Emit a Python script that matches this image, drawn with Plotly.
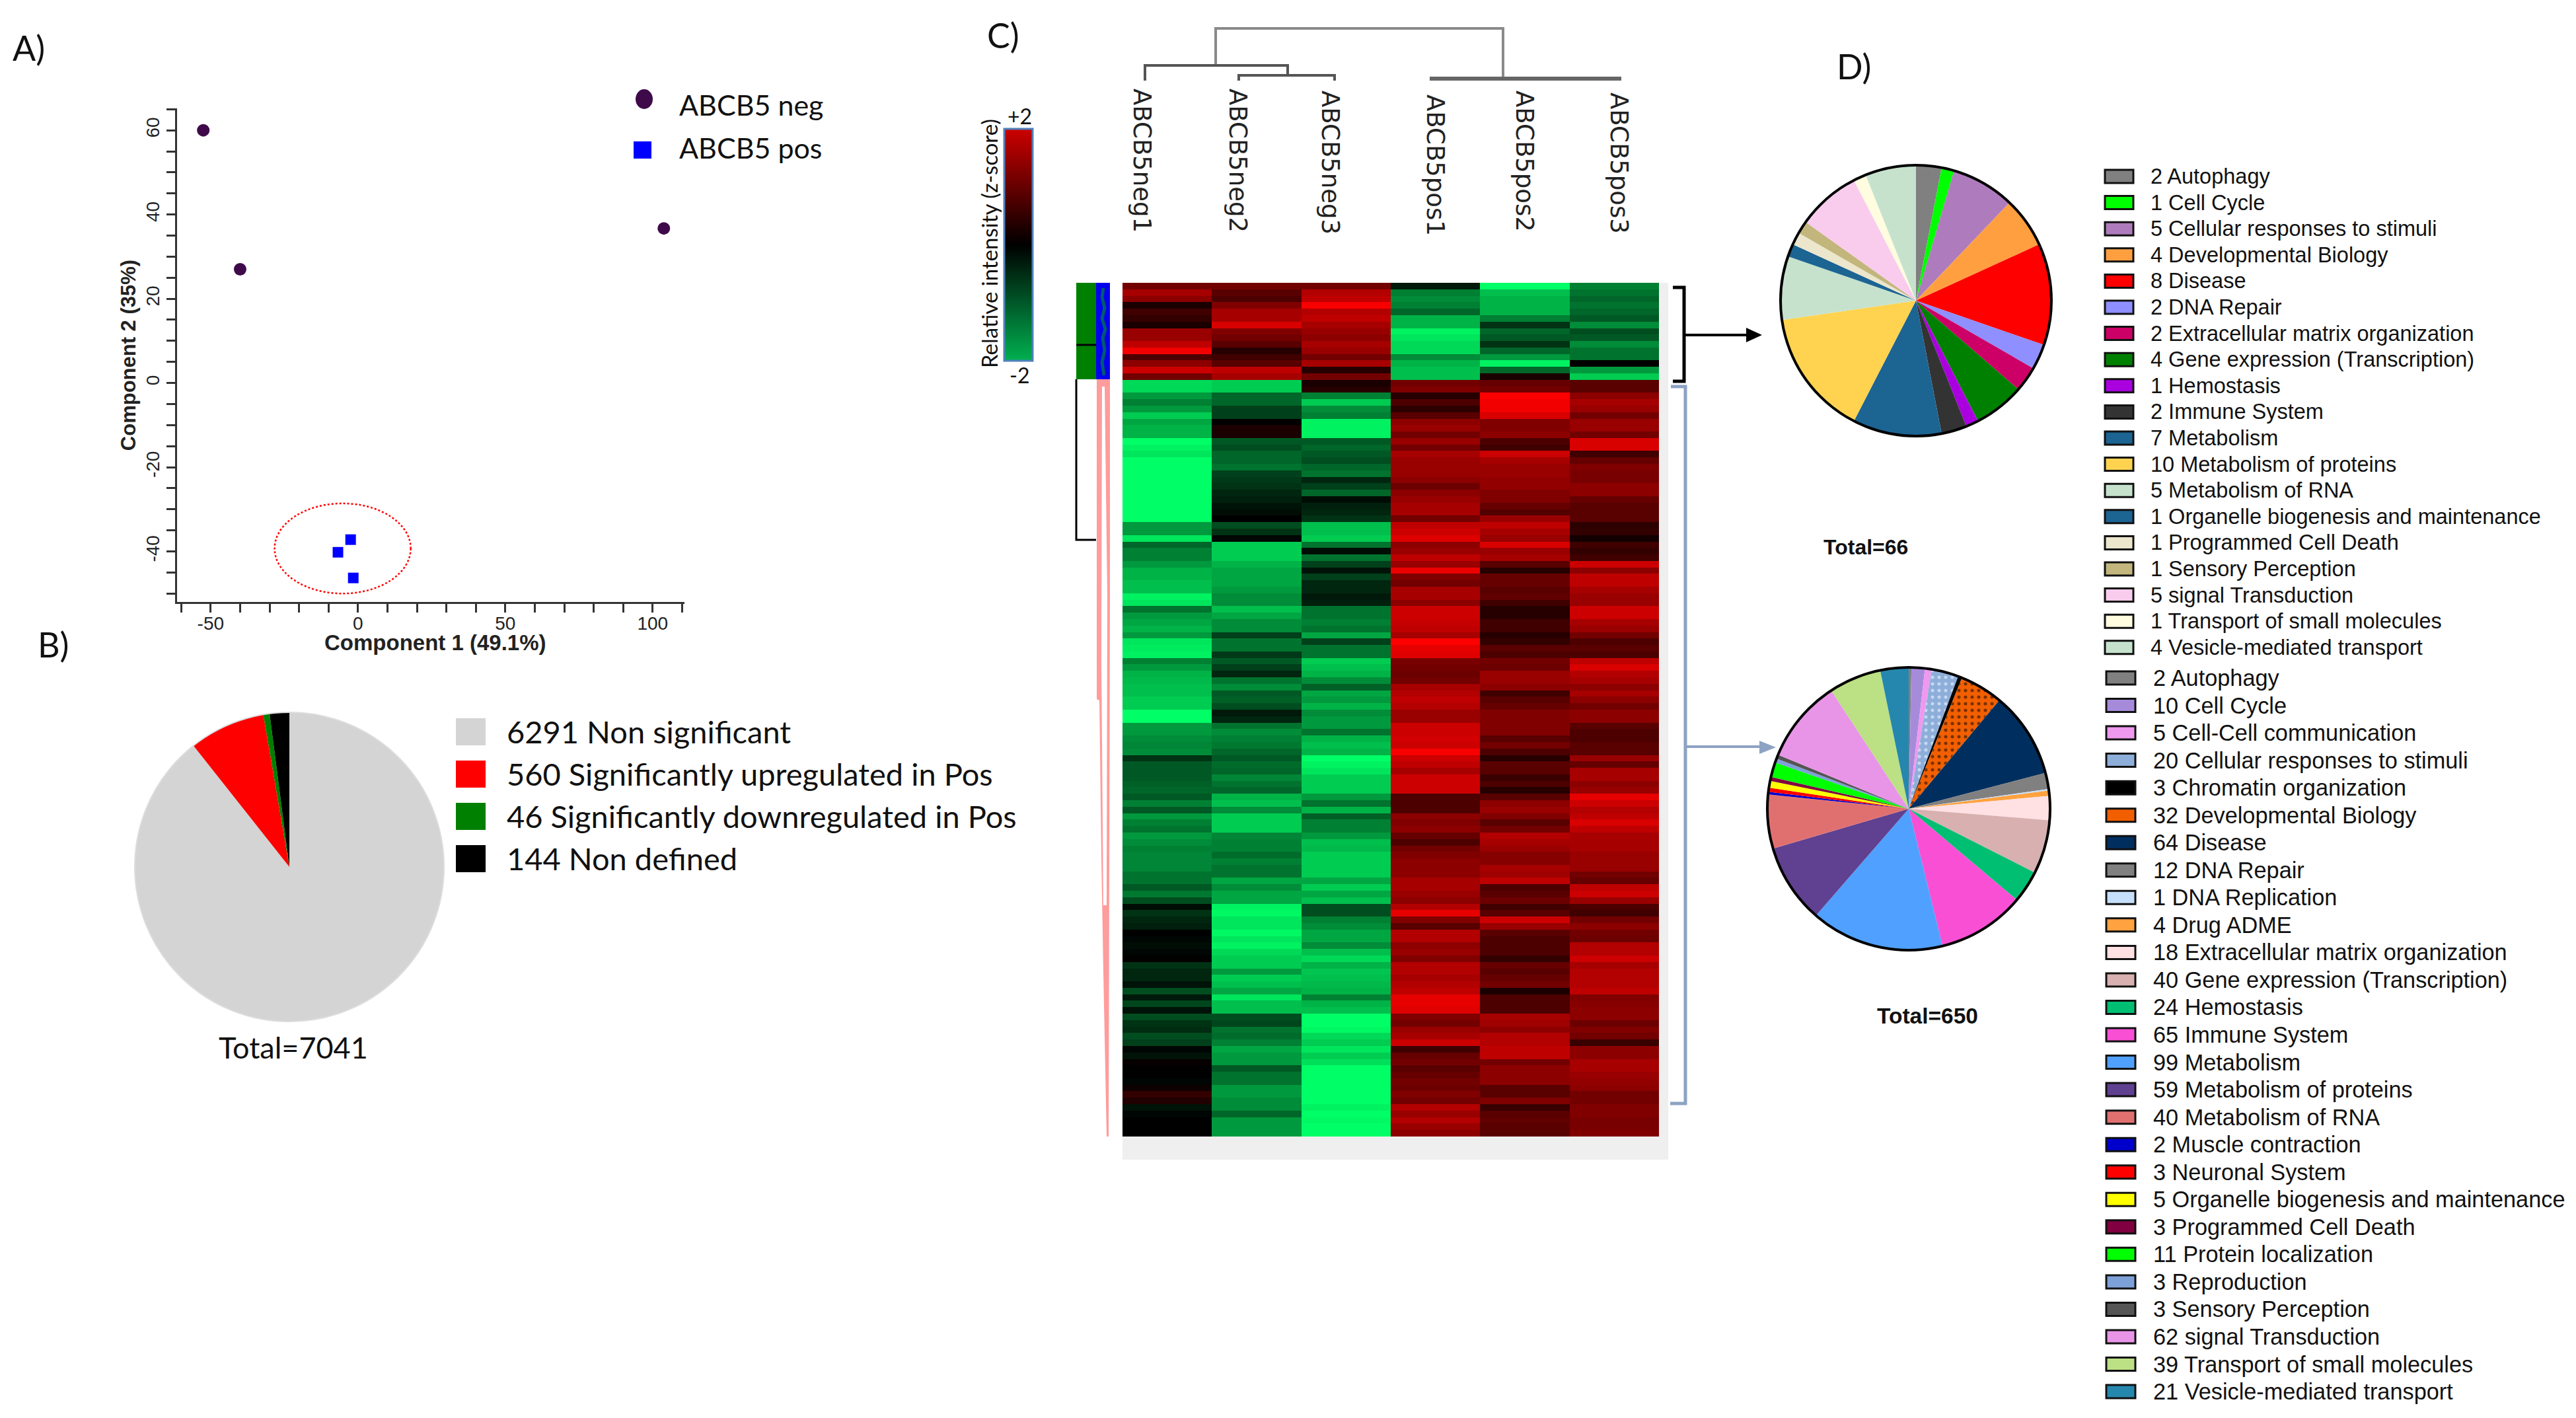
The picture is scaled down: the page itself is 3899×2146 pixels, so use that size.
import plotly.graph_objects as go

W, H = 3899, 2146

# ---------- Panel A data ----------
NEG_X = [-52.5, -40.0, 103.8]
NEG_Y = [60.0, 27.0, 36.7]
POS_X = [-2.5, -6.8, -1.6]
POS_Y = [-37.2, -40.2, -46.3]
A_XTICKS = [-50, 0, 50, 100]
A_XTEXT = ["-50", "0", "50", "100"]
A_YTICKS = [-40, -20, 0, 20, 40, 60]
A_YTEXT = ["-40", "-20", "0", "20", "40", "60"]

# ---------- Panel B data ----------
B_LABELS = ["Non significant", "Significantly upregulated in Pos", "Significantly downregulated in Pos", "Non defined"]
B_VALUES = [6291, 560, 46, 144]
B_COLORS = ["#D4D4D4", "#FF0000", "#008000", "#000000"]

# ---------- Panel C data ----------
COLS = ["ABCB5neg1", "ABCB5neg2", "ABCB5neg3", "ABCB5pos1", "ABCB5pos2", "ABCB5pos3"]
NEG1 = [.9,1.3,1.1,.2,.5,.4,.2,1.2,1.2,1.5,1.9,.6,1.1,1.6,.9,
  -1.7,-1.7,-1.2,-1.0,-1.2,-1.6,-1.3,-1.4,-1.4,-2,-1.9,-1.8,-2,-2,-2,-2,-2,-2,-2,-2,-2,-2,-1.2,-1.2,-1.8,-.8,-1.0,-1.0,-1.2,-1.4,-1.4,-1.5,-1.5,-1.9,-1.8,-.9,-1.2,-1.3,-1.4,
  -1.2,-1.8,-1.85,-1.9,-1.0,-1.2,-1.4,-1.45,-1.5,-1.5,-1.6,-1.6,-2,-2,-1.2,-1.2,-1.1,-1.05,-1.1,-.4,-.7,-.7,-.7,-.75,-.8,-.7,-1.0,-.7,-1.2,-1.0,-.9,-1.2,-1.1,-1.0,-1.05,-1.05,-1.05,-.9,-.9,
  -.7,-.95,-.6,-.1,-.4,-.3,-.25,0,-.05,-.1,-.05,.02,-.4,-.3,-.3,-.15,-.6,-.2,-.55,-.15,-.6,-.4,-.35,-.6,-.5,-.05,-.15,.05,0,0,-.05,.1,.4,.25,-.15,-.05,0,0,0]
NEG2 = [.9,.7,.6,1.0,1.3,1.3,1.7,1.0,.9,.7,.3,.5,.7,1.5,1.3,
  -1.6,-1.6,-.8,-.8,-.5,-.5,0,.2,.2,-.7,-.6,-.8,-.8,-.9,-.5,-.45,-.4,-.3,-.25,-.15,-.1,0,-.6,-.4,-.05,-1.6,-1.6,-1.6,-1.4,-1.3,-1.3,-1.3,-1.2,-1.1,-1.1,-1.5,-1.3,-1.1,-1.1,
  -.5,-.9,-.9,-.45,-.7,-.5,-.3,-.9,-1.1,-.7,-.75,-.6,-.2,-.3,-.9,-1.1,-1.0,-.95,-.8,-.7,-.85,-.8,-1.05,-.9,-.8,-1.4,-1.5,-1.1,-1.6,-1.6,-1.6,-1.05,-1.0,-1.0,-.85,-1.0,-.9,-.9,-1.3,
  -1.1,-1.3,-1.3,-1.9,-1.95,-1.8,-1.8,-1.95,-1.8,-1.9,-1.7,-1.6,-1.6,-1.2,-1.6,-1.5,-1.3,-1.8,-1.5,-1.5,-.6,-.55,-.9,-.85,-1.0,-1.3,-1.2,-1.2,-.7,-.9,-.9,-1.2,-1.2,-1.1,-1.1,-.8,-1.2,-1.2,-1.2]
NEG3 = [.9,1.4,1.5,1.95,1.4,1.5,1.3,1.2,1.1,1.3,1.2,.9,1.3,.3,.9,
  .2,.3,-1.0,-1.6,-1.1,-1.0,-1.9,-1.9,-1.9,-.7,-.8,-.7,-.6,-.8,-.9,-.3,-.5,-.8,-.1,-.25,-.3,-.4,-1.5,-1.5,-1.6,-.9,-.1,-.9,-.5,-.15,-.5,-.3,-.3,-.2,-.25,-.9,-.9,-1.0,-.9,
  -1.3,-.5,-.9,-.9,-1.6,-1.5,-1.4,-1.1,-.75,-1.3,-1.2,-1.4,-1.1,-1.2,-1.2,-.9,-1.4,-1.5,-1.4,-2,-1.9,-1.8,-1.6,-1.6,-1.6,-1.2,-.9,-1.4,-.75,-1.0,-1.0,-1.2,-1.5,-1.45,-1.6,-1.6,-1.6,-1.6,-1.3,
  -1.6,-1.3,-1.5,-.6,-.6,-1.0,-1.1,-1.3,-1.3,-1.1,-1.5,-1.7,-1.4,-1.55,-1.5,-1.45,-1.4,-1.0,-1.4,-1.5,-2,-2,-1.95,-1.7,-1.6,-1.8,-1.6,-1.75,-2,-2,-2,-2,-2,-2,-1.9,-2,-1.95,-2,-2]
POS1 = [-.2,-1.0,-1.1,-1.0,-.8,-1.4,-1.4,-1.9,-1.8,-1.7,-1.7,-1.1,-1.4,-1.5,-1.5,
  .9,1.0,.3,.6,.35,.7,1.1,1.2,.9,1.2,.9,1.3,1.2,1.2,1.2,1.1,.85,1.1,1.2,1.3,1.3,.9,1.5,1.6,1.75,1.1,1.2,1.5,1.2,1.85,1.0,.9,1.3,1.3,1.1,1.6,1.6,1.55,1.5,
  1.3,2.0,1.8,1.75,.95,.9,.85,.9,1.3,1.4,1.5,1.4,1.2,1.2,1.6,1.6,1.65,1.6,1.95,1.6,1.5,1.3,1.6,1.6,1.6,.6,.6,.6,1.1,1.0,1.1,.8,.6,.9,1.0,1.1,1.1,1.1,1.3,
  1.3,1.2,1.1,1.4,1.8,1.0,.7,1.4,1.4,1.1,1.2,1.0,1.4,1.4,1.3,1.4,1.5,1.8,1.8,1.75,1.0,.9,1.2,1.3,1.6,.5,.8,.9,.7,.8,.9,.85,1.0,.9,1.4,1.2,1.4,1.2,1.1]
POS2 = [-2,-1.5,-1.4,-1.4,-1.4,-1.0,-.4,-.8,-.7,-.4,-.8,-1.2,-1.9,-.8,.2,
  .8,.9,2.0,1.9,1.9,1.7,1.0,1.0,1.1,.6,.5,1.6,1.3,1.2,1.2,1.15,1.15,1.0,1.0,.8,.65,1.2,1.5,1.3,1.2,1.7,1.2,1.3,.7,.3,.8,.8,.7,.75,.5,.3,.3,.5,.5,
  .3,.4,.7,.6,.9,.85,1.2,1.2,1.1,.5,.7,.8,1.0,1.0,1.0,1.0,.7,.9,.6,.3,.7,.7,.45,.6,.3,.7,1.1,1.2,1.0,.7,.9,1.4,1.3,1.2,1.05,1.05,1.3,1.25,1.5,
  .6,.7,.85,.5,.7,1.6,1.2,.7,.6,.6,.6,.4,.8,.7,.8,.9,.2,.6,.6,.6,1.3,1.25,1.1,1.4,1.4,1.5,1.5,.9,1.1,1.1,1.1,.7,.7,1.0,.45,.7,.75,.7,.7]
POS3 = [-1.0,-.9,-.8,-.9,-.8,-.7,-1.1,-.6,-.7,-1.1,-.9,-.9,0,-1.2,-1.6,
  .7,.7,1.1,1.3,1.2,.9,1.2,1.2,.9,1.7,1.7,.5,.8,1.0,.95,.95,1.1,1.1,.8,.7,.7,.7,.35,.4,.15,.5,.4,.5,1.6,1.1,1.5,1.5,1.3,1.2,1.2,1.6,1.6,1.3,1.2,
  .9,.6,.7,.6,1.5,1.7,1.4,1.3,1.1,1.3,1.1,.9,1.1,1.1,.7,.6,.6,.7,.7,1.2,.8,1.3,1.3,1.1,1.2,1.8,1.6,1.4,1.5,1.7,1.5,1.3,1.3,1.3,1.2,1.2,1.2,.9,.8,
  1.5,1.6,1.2,.6,.5,.9,1.1,.9,.85,1.4,1.4,1.6,1.3,1.4,1.4,1.4,1.5,1.0,1.05,1.1,1.1,.85,1.0,.9,.45,1.1,1.1,1.3,1.3,1.2,1.15,1.1,.9,.9,1.0,1.0,.95,.95,1.0]

# ---------- Panel D data ----------
D1_LABELS = ["Autophagy", "Cell Cycle", "Cellular responses to stimuli", "Developmental Biology", "Disease", "DNA Repair",
             "Extracellular matrix organization", "Gene expression (Transcription)", "Hemostasis", "Immune System", "Metabolism",
             "Metabolism of proteins", "Metabolism of RNA", "Organelle biogenesis and maintenance", "Programmed Cell Death",
             "Sensory Perception", "signal Transduction", "Transport of small molecules", "Vesicle-mediated transport"]
D1_VALUES = [2, 1, 5, 4, 8, 2, 2, 4, 1, 2, 7, 10, 5, 1, 1, 1, 5, 1, 4]
D1_COLORS = ["#808080", "#00FF00", "#AE7CBC", "#FF9F40", "#FF0000", "#8F8FFF", "#CC0066", "#008000", "#AA00E0", "#333333",
             "#1C6492", "#FFD34F", "#C6E2CC", "#1C6492", "#EBE6CC", "#C2B67C", "#F9CCEE", "#FFFCE0", "#C6E2CC"]

D2_LABELS = ["Autophagy", "Cell Cycle", "Cell-Cell communication", "Cellular responses to stimuli", "Chromatin organization",
             "Developmental Biology", "Disease", "DNA Repair", "DNA Replication", "Drug ADME", "Extracellular matrix organization",
             "Gene expression (Transcription)", "Hemostasis", "Immune System", "Metabolism", "Metabolism of proteins",
             "Metabolism of RNA", "Muscle contraction", "Neuronal System", "Organelle biogenesis and maintenance",
             "Programmed Cell Death", "Protein localization", "Reproduction", "Sensory Perception", "signal Transduction",
             "Transport of small molecules", "Vesicle-mediated transport"]
D2_VALUES = [2, 10, 5, 20, 3, 32, 64, 12, 1, 4, 18, 40, 24, 65, 99, 59, 40, 2, 3, 5, 3, 11, 3, 3, 62, 39, 21]
D2_COLORS = ["#808080", "#A78BDB", "#EE99EE", "#8EAEDA", "#000000", "#F25F00", "#002F5F", "#808080", "#C6DFFA", "#FFA23F",
             "#FFE0E3", "#D8B0B0", "#00BF73", "#F94FD5", "#50A0FF", "#604090", "#E07070", "#0000CC", "#FF0000", "#FFFF00",
             "#800040", "#00FF00", "#7EA0D8", "#555555", "#E895E8", "#BCE084", "#2687AE"]
D2_PATTERN = ["", "", "", ".", "", ".", "", "", "", "", "", "", "", "", "", "", "", "", "", "", "", "", "", "", "", "", ""]
D2_PATFG = ["#808080", "#A78BDB", "#EE99EE", "#C4D8F0", "#000000", "#7A3000"] + D2_COLORS[6:]


def px(x):
    return x / W


def py(y):
    return 1 - y / H


SANS = "Liberation Sans"
HUM = "Lato"
shapes = []
notes = []


def rect(x0, y0, x1, y1, fill=None, line=None, lw=0, layer="above"):
    shapes.append(dict(type="rect", xref="paper", yref="paper", x0=px(x0), x1=px(x1), y0=py(y0), y1=py(y1),
                       fillcolor=fill or "rgba(0,0,0,0)", line=dict(color=line or "rgba(0,0,0,0)", width=lw), layer=layer))


def poly(pts, line=None, lw=0, fill=None, closed=False, layer="above"):
    d = "M" + " L".join(f"{px(a):.5f},{py(b):.5f}" for a, b in pts) + (" Z" if closed else "")
    shapes.append(dict(type="path", xref="paper", yref="paper", path=d, fillcolor=fill or "rgba(0,0,0,0)",
                       line=dict(color=line or "rgba(0,0,0,0)", width=lw), layer=layer))


def circle(cx, cy, rx, ry, fill=None, line=None, lw=0):
    shapes.append(dict(type="circle", xref="paper", yref="paper", x0=px(cx - rx), x1=px(cx + rx), y0=py(cy + ry), y1=py(cy - ry),
                       fillcolor=fill or "rgba(0,0,0,0)", line=dict(color=line or "rgba(0,0,0,0)", width=lw), layer="above"))


def text(x, y, s, size, family=SANS, anchor="left", angle=0, color="#111", yanchor="middle"):
    notes.append(dict(xref="paper", yref="paper", x=px(x), y=py(y), text=s, showarrow=False, xanchor=anchor, yanchor=yanchor,
                      textangle=angle, font=dict(size=size, family=family, color=color)))


fig = go.Figure()

# ---------- Panel A ----------
fig.add_trace(go.Scatter(x=NEG_X, y=NEG_Y, mode="markers", name="ABCB5 neg", showlegend=False,
                         marker=dict(symbol="circle", size=19, color="#3F0A4A")))
fig.add_trace(go.Scatter(x=POS_X, y=POS_Y, mode="markers", name="ABCB5 pos", showlegend=False,
                         marker=dict(symbol="square", size=16, color="#0000FF")))
AXC = "#333333"
tickf = dict(size=28, family=SANS, color="#222")
fig.update_layout(
    xaxis=dict(domain=[px(268), px(1036)], range=[-61.4, 110.8], anchor="y", tickmode="array", tickvals=A_XTICKS, ticktext=A_XTEXT,
               ticks="outside", ticklen=13, tickwidth=2.5,
               tickcolor=AXC, showline=True, linecolor=AXC, linewidth=3, showgrid=False, zeroline=False, tickfont=tickf,
               ticklabelstandoff=-8,
               minor=dict(dtick=10, tick0=0, ticks="outside", ticklen=13, tickwidth=2.5, tickcolor=AXC, showgrid=False)),
    yaxis=dict(domain=[py(911), py(164)], range=[-52, 65.2], anchor="x", tickmode="array", tickvals=A_YTICKS, ticktext=A_YTEXT,
               ticks="outside", ticklen=13, tickwidth=2.5,
               tickcolor=AXC, showline=True, linecolor=AXC, linewidth=3, showgrid=False, zeroline=False, tickfont=tickf, tickangle=-90,
               minor=dict(dtick=5, tick0=0, ticks="outside", ticklen=13, tickwidth=2.5, tickcolor=AXC, showgrid=False),
               title=dict(text="<b>Component 2 (35%)</b>", font=dict(size=31, family=SANS, color="#222"), standoff=1)),
)
text(659, 972, "<b>Component 1 (49.1%)</b>", 33, anchor="center", color="#222")
shapes.append(dict(type="circle", xref="x", yref="y", x0=-28.3, x1=17.9, y0=-50, y1=-28.6,
                   line=dict(color="#FF0000", width=2.5, dash="dot"), layer="above"))
circle(975, 150, 13, 15, fill="#3F0A4A")
rect(959, 214, 986, 240, fill="#0000FF")
text(1026, 158, "ABCB5 neg", 43, HUM)
text(1026, 224, "ABCB5 pos", 43, HUM)

text(17, 72, "A)", 52, HUM)
text(55, 975, "B)", 52, HUM)
text(1492, 53, "C)", 52, HUM)
text(2778, 100, "D)", 52, HUM)

# ---------- Panel B ----------
R_B = 234
fig.add_trace(go.Pie(labels=B_LABELS, values=B_VALUES, sort=False, direction="clockwise", rotation=0, textinfo="none", showlegend=False,
                     marker=dict(colors=B_COLORS, line=dict(width=0)),
                     domain=dict(x=[px(438 - R_B), px(438 + R_B)], y=[py(1312 + R_B), py(1312 - R_B)])))
circle(438, 1312, R_B, R_B, line="#DDDDDD", lw=2)
for i, (lab, val, col) in enumerate(zip(B_LABELS, B_VALUES, B_COLORS)):
    y0 = 1087 + 64 * i
    rect(690, y0, 735, y0 + 41, fill=col)
    text(765, y0 + 20, f"{val} {lab}", 47, HUM)
text(444, 1585, "Total=7041", 45, HUM, anchor="center")

# ---------- Panel C ----------
rect(1699, 428, 2525, 1755, fill="#EFEFEF", layer="below")
Z = [list(r) for r in zip(NEG1, NEG2, NEG3, POS1, POS2, POS3)]
HEAT_SCALE = [[0, "#00FF66"], [0.5, "#000000"], [1, "#FF0000"]]
fig.add_trace(go.Heatmap(z=Z, x=COLS, y=list(range(len(Z))), zmin=-2, zmax=2, colorscale=HEAT_SCALE, showscale=False,
                         xaxis="x2", yaxis="y2"))
fig.update_layout(
    xaxis2=dict(domain=[px(1699), px(2511)], anchor="y2", visible=False),
    yaxis2=dict(domain=[py(1720), py(428)], anchor="x2", visible=False, range=[len(Z) - 0.5, -0.5]),
)
# colour key
fig.add_trace(go.Scatter(x=[None, None], y=[None, None], mode="markers", showlegend=False, xaxis="x2", yaxis="y2",
                         marker=dict(color=[-2, 2], cmin=-2, cmax=2, showscale=True,
                                     colorscale=[[0, "#00B050"], [0.5, "#000000"], [1, "#CC0000"]],
                                     colorbar=dict(x=px(1520), xanchor="left", y=py(195), yanchor="top", lenmode="pixels", len=351,
                                                   thicknessmode="pixels", thickness=43, xpad=0, ypad=0, outlinecolor="#4F81BD",
                                                   outlinewidth=3, showticklabels=False, ticks=""))))
text(1543, 175, "+2", 32, HUM, anchor="center")
text(1543, 568, "-2", 32, HUM, anchor="center")
text(1497, 369, "Relative intensity (z-score)", 33, HUM, anchor="center", angle=-90)

# column labels
LAB_X = [1729, 1874, 2013, 2173, 2307, 2451]
LAB_Y = [132, 132, 135, 141, 135, 138]
for name, x, y in zip(COLS, LAB_X, LAB_Y):
    text(x, y, name, 37, "DejaVu Sans", anchor="center", angle=90, yanchor="top", color="#222")

# column dendrogram
G1, G2 = "#8A8A8A", "#555555"
poly([(1840, 99), (1840, 43), (2275, 43), (2275, 119)], line=G1, lw=4)
poly([(1733, 122), (1733, 99), (1949, 99), (1949, 114)], line=G2, lw=4)
poly([(1875, 122), (1875, 114), (2020, 114), (2020, 122)], line=G2, lw=4)
poly([(2164, 119), (2454, 119)], line="#666666", lw=6)

# row bars and tree
rect(1629, 428, 1659, 574, fill="#008000")
poly([(1629, 522), (1659, 522)], line="#000000", lw=3)
rect(1659, 428, 1680, 574, fill="#0000EE")
poly([(1670, 436), (1668, 450), (1672, 466), (1668, 482), (1673, 498), (1669, 512), (1672, 530), (1668, 548), (1671, 568)],
     line="#005A70", lw=5)
poly([(1629, 574), (1629, 817), (1659, 817)], line="#000000", lw=3)
poly([(1660, 574), (1680, 574), (1680, 900), (1678, 1720), (1675, 1720), (1670, 1470), (1667, 1300), (1664, 1060), (1660, 1058)],
     fill="#FF9C9C", closed=True)
poly([(1668, 585), (1672, 585), (1676, 900), (1675, 1370), (1670, 1370), (1667, 1000)], fill="#FFFFFF", closed=True)

# brackets and arrows
poly([(2532, 435), (2549, 435), (2549, 577), (2532, 577)], line="#000000", lw=5)
poly([(2549, 507), (2645, 507)], line="#000000", lw=4)
poly([(2667, 507), (2643, 496), (2643, 518)], fill="#000000", closed=True)
BR = "#8DA3C4"
poly([(2529, 585), (2551, 585), (2551, 1670), (2528, 1670)], line=BR, lw=5)
poly([(2551, 1130), (2665, 1130)], line=BR, lw=4)
poly([(2688, 1131), (2663, 1121), (2663, 1141)], fill=BR, closed=True)

# ---------- Panel D ----------
R_D1 = 205
fig.add_trace(go.Pie(labels=D1_LABELS, values=D1_VALUES, sort=False, direction="clockwise", rotation=0, textinfo="none", showlegend=False,
                     marker=dict(colors=D1_COLORS, line=dict(width=0)),
                     domain=dict(x=[px(2900 - R_D1), px(2900 + R_D1)], y=[py(455 + R_D1), py(455 - R_D1)])))
circle(2900, 455, R_D1, R_D1, line="#000000", lw=4)
R_D2 = 214
fig.add_trace(go.Pie(labels=D2_LABELS, values=D2_VALUES, sort=False, direction="clockwise", rotation=0, textinfo="none", showlegend=False,
                     marker=dict(colors=D2_COLORS, line=dict(width=0),
                                 pattern=dict(shape=D2_PATTERN, fgcolor=D2_PATFG, bgcolor=D2_COLORS, size=10, solidity=0.2)),
                     domain=dict(x=[px(2889 - R_D2), px(2889 + R_D2)], y=[py(1224 + R_D2), py(1224 - R_D2)])))
circle(2889, 1224, R_D2, R_D2, line="#000000", lw=4)

for i, (lab, val, col) in enumerate(zip(D1_LABELS, D1_VALUES, D1_COLORS)):
    y = 267 + 39.6 * i
    rect(3186, y - 10, 3229, y + 10, fill=col, line="#111111", lw=3)
    text(3253, y, f"{val} {lab}", 32.5)
for i, (lab, val, col) in enumerate(zip(D2_LABELS, D2_VALUES, D2_COLORS)):
    y = 1026 + 41.54 * i
    rect(3188, y - 10, 3232, y + 10, fill=col, line="#111111", lw=3)
    text(3257, y, f"{val} {lab}", 34.3)
text(2824, 828, "<b>Total=66</b>", 32, anchor="center")
text(2917, 1537, "<b>Total=650</b>", 33.5, anchor="center")

fig.update_layout(width=W, height=H, autosize=False, margin=dict(l=0, r=0, t=0, b=0), paper_bgcolor="#FFFFFF",
                  plot_bgcolor="rgba(0,0,0,0)", showlegend=False, shapes=shapes, annotations=notes)
fig.write_html("out.html", config={"displayModeBar": False},
               post_script="document.body.style.margin='0';document.documentElement.style.overflow='hidden';")
